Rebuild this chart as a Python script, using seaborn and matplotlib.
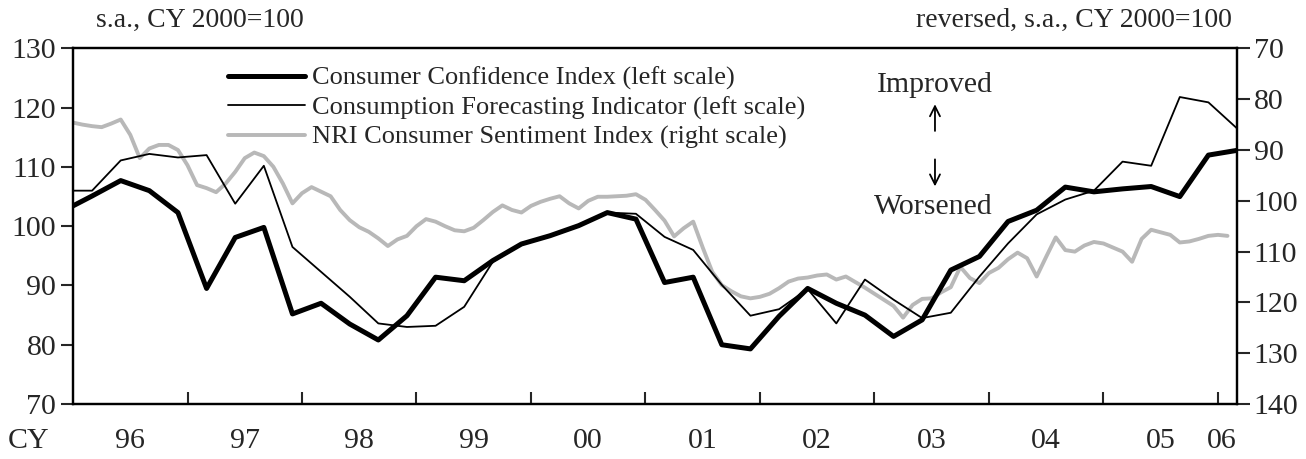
import numpy as np
import pandas as pd
import seaborn as sns
import matplotlib.pyplot as plt

sns.set_theme(style="ticks")
plt.rcParams['font.family'] = ['Liberation Serif', 'DejaVu Serif']

# months counted from Jan 1996 (0 = Jan 1996)
cci_month = [-1, 2, 5, 8, 11, 14, 17, 20, 23, 26, 29, 32, 35, 38, 41, 44, 47, 50, 53, 56,
             59, 62, 65, 68, 71, 74, 77, 80, 83, 86, 89, 92, 95, 98, 101, 104, 107, 110,
             113, 116, 119, 122]
cci = [102.6, 105.1, 107.7, 106.0, 102.3, 89.5, 98.1, 99.8, 85.2, 87.0, 83.5, 80.8, 84.9,
       91.4, 90.8, 94.2, 97.0, 98.4, 100.1, 102.3, 101.2, 90.5, 91.4, 80.0, 79.3, 84.8,
       89.5, 87.0, 85.0, 81.4, 84.2, 92.6, 94.9, 100.8, 102.7, 106.6, 105.8, 106.3,
       106.7, 105.0, 112.0, 112.8]
cfi = [106.0, 106.0, 111.1, 112.2, 111.6, 112.0, 103.8, 110.2, 96.5, 92.3, 88.1, 83.6, 83.0,
       83.2, 86.4, 94.0, 96.9, 98.3, 100.0, 102.3, 102.1, 98.2, 96.0, 90.1, 84.9, 86.0,
       89.4, 83.6, 91.0, 87.6, 84.5, 85.4, 91.5, 97.1, 102.0, 104.5, 106.0, 110.9,
       110.2, 121.8, 120.9, 116.5]

nri = [84.6, 85.0, 85.3, 85.5, 84.8, 84.0, 87.0, 91.6, 89.7, 89.0, 89.0, 90.0,
       93.0, 96.9, 97.5, 98.3, 96.6, 94.3, 91.6, 90.5, 91.2, 93.3, 96.6, 100.5,
       98.5, 97.3, 98.2, 99.1, 101.8, 103.8, 105.2, 106.1, 107.4, 108.9, 107.6, 106.9,
       105.0, 103.6, 104.1, 105.0, 105.8, 106.0, 105.3, 103.8, 102.2, 100.9, 101.8, 102.3,
       101.0, 100.2, 99.6, 99.1, 100.5, 101.5, 100.0, 99.2, 99.2, 99.1, 99.0, 98.7,
       99.8, 101.8, 103.9, 107.0, 105.4, 104.1, 109.2, 114.0, 116.6, 117.8, 118.8, 119.2,
       118.9, 118.3, 117.2, 115.9, 115.3, 115.1, 114.7, 114.5, 115.5, 114.9, 116.0, 117.1,
       118.3, 119.5, 120.7, 123.0, 120.5, 119.3, 119.2, 118.0, 117.0, 113.0, 115.2, 116.2,
       114.2, 113.2, 111.5, 110.2, 111.3, 114.9, 111.0, 107.2, 109.7, 110.0, 108.8, 108.1,
       108.4, 109.2, 110.0, 112.0, 107.5, 105.7, 106.2, 106.7, 108.2, 108.0, 107.5, 106.9,
       106.7, 106.9]
nri_month = list(range(len(nri)))

year_labels = ['96', '97', '98', '99', '00', '01', '02', '03', '04', '05', '06']

df_q = pd.DataFrame({'month': cci_month, 'cci': cci, 'cfi': cfi})
df_m = pd.DataFrame({'month': nri_month, 'nri': nri})

fig = plt.figure(figsize=(13.06, 4.59), dpi=100)
ax = fig.add_axes([0.0559, 0.1198, 0.8913, 0.7747])
ax2 = ax.twinx()

sns.lineplot(data=df_m, x='month', y='nri', ax=ax2, color='#b8b8b8', linewidth=2.8,
             label='NRI Consumer Sentiment Index (right scale)', legend=False)
sns.lineplot(data=df_q, x='month', y='cci', ax=ax, color='black', linewidth=3.6,
             label='Consumer Confidence Index (left scale)', legend=False)
sns.lineplot(data=df_q, x='month', y='cfi', ax=ax, color='black', linewidth=1.3,
             label='Consumption Forecasting Indicator (left scale)', legend=False)

ax.set_zorder(ax2.get_zorder() + 1)
ax.patch.set_visible(False)

ax.set_xlim(0, 122)
ax.set_ylim(70, 130)
ax2.set_ylim(140, 70)
ax.set_yticks(range(70, 131, 10))
ax2.set_yticks(range(70, 141, 10))
ax.set_xlabel('')
ax.set_ylabel('')
ax2.set_ylabel('')

ax.set_xticks(range(12, 121, 12))
ax.set_xticklabels([])
ax.set_xticks([6 + 12 * i for i in range(10)] + [120.4], minor=True)
ax.set_xticklabels(year_labels, minor=True)
ax.tick_params(axis='x', which='major', direction='in', length=9, width=1.5)
ax.tick_params(axis='x', which='minor', length=0, pad=17, labelsize=21.5)
ax.tick_params(axis='y', direction='out', length=9, width=1.5, labelsize=21.5, pad=3)
ax2.tick_params(axis='y', direction='out', length=9, width=1.5, labelsize=21.5, pad=3)

for a in (ax, ax2):
    for s in a.spines.values():
        s.set_linewidth(1.6)
        s.set_color('black')

h1, l1 = ax.get_legend_handles_labels()
h2, l2 = ax2.get_legend_handles_labels()
ax.legend(h1 + h2, l1 + l2, loc='upper left', bbox_to_anchor=(0.133, 0.949),
          frameon=False, fontsize=19, handlelength=2.92, handletextpad=0.27,
          labelspacing=0.21, borderpad=0, borderaxespad=0)

fig.text(0.0735, 0.956, 's.a., CY 2000=100', fontsize=20, ha='left', va='center')
fig.text(0.9433, 0.956, 'reversed, s.a., CY 2000=100', fontsize=20, ha='right', va='center')
fig.text(0.022, 0.039, 'CY', fontsize=21.5, ha='center', va='center')

ax.text(0.7405, 0.897, 'Improved', transform=ax.transAxes, fontsize=21.5, ha='center', va='center')
ax.annotate('', xy=(0.7405, 0.843), xytext=(0.7405, 0.768), xycoords='axes fraction',
            arrowprops=dict(arrowstyle='->', lw=1.3, color='black',
                            shrinkA=0, shrinkB=0, mutation_scale=18))
ax.annotate('', xy=(0.7405, 0.612), xytext=(0.7405, 0.688), xycoords='axes fraction',
            arrowprops=dict(arrowstyle='->', lw=1.3, color='black',
                            shrinkA=0, shrinkB=0, mutation_scale=18))
ax.text(0.739, 0.554, 'Worsened', transform=ax.transAxes, fontsize=21.5, ha='center', va='center')

fig.savefig('out.png', dpi=100)
